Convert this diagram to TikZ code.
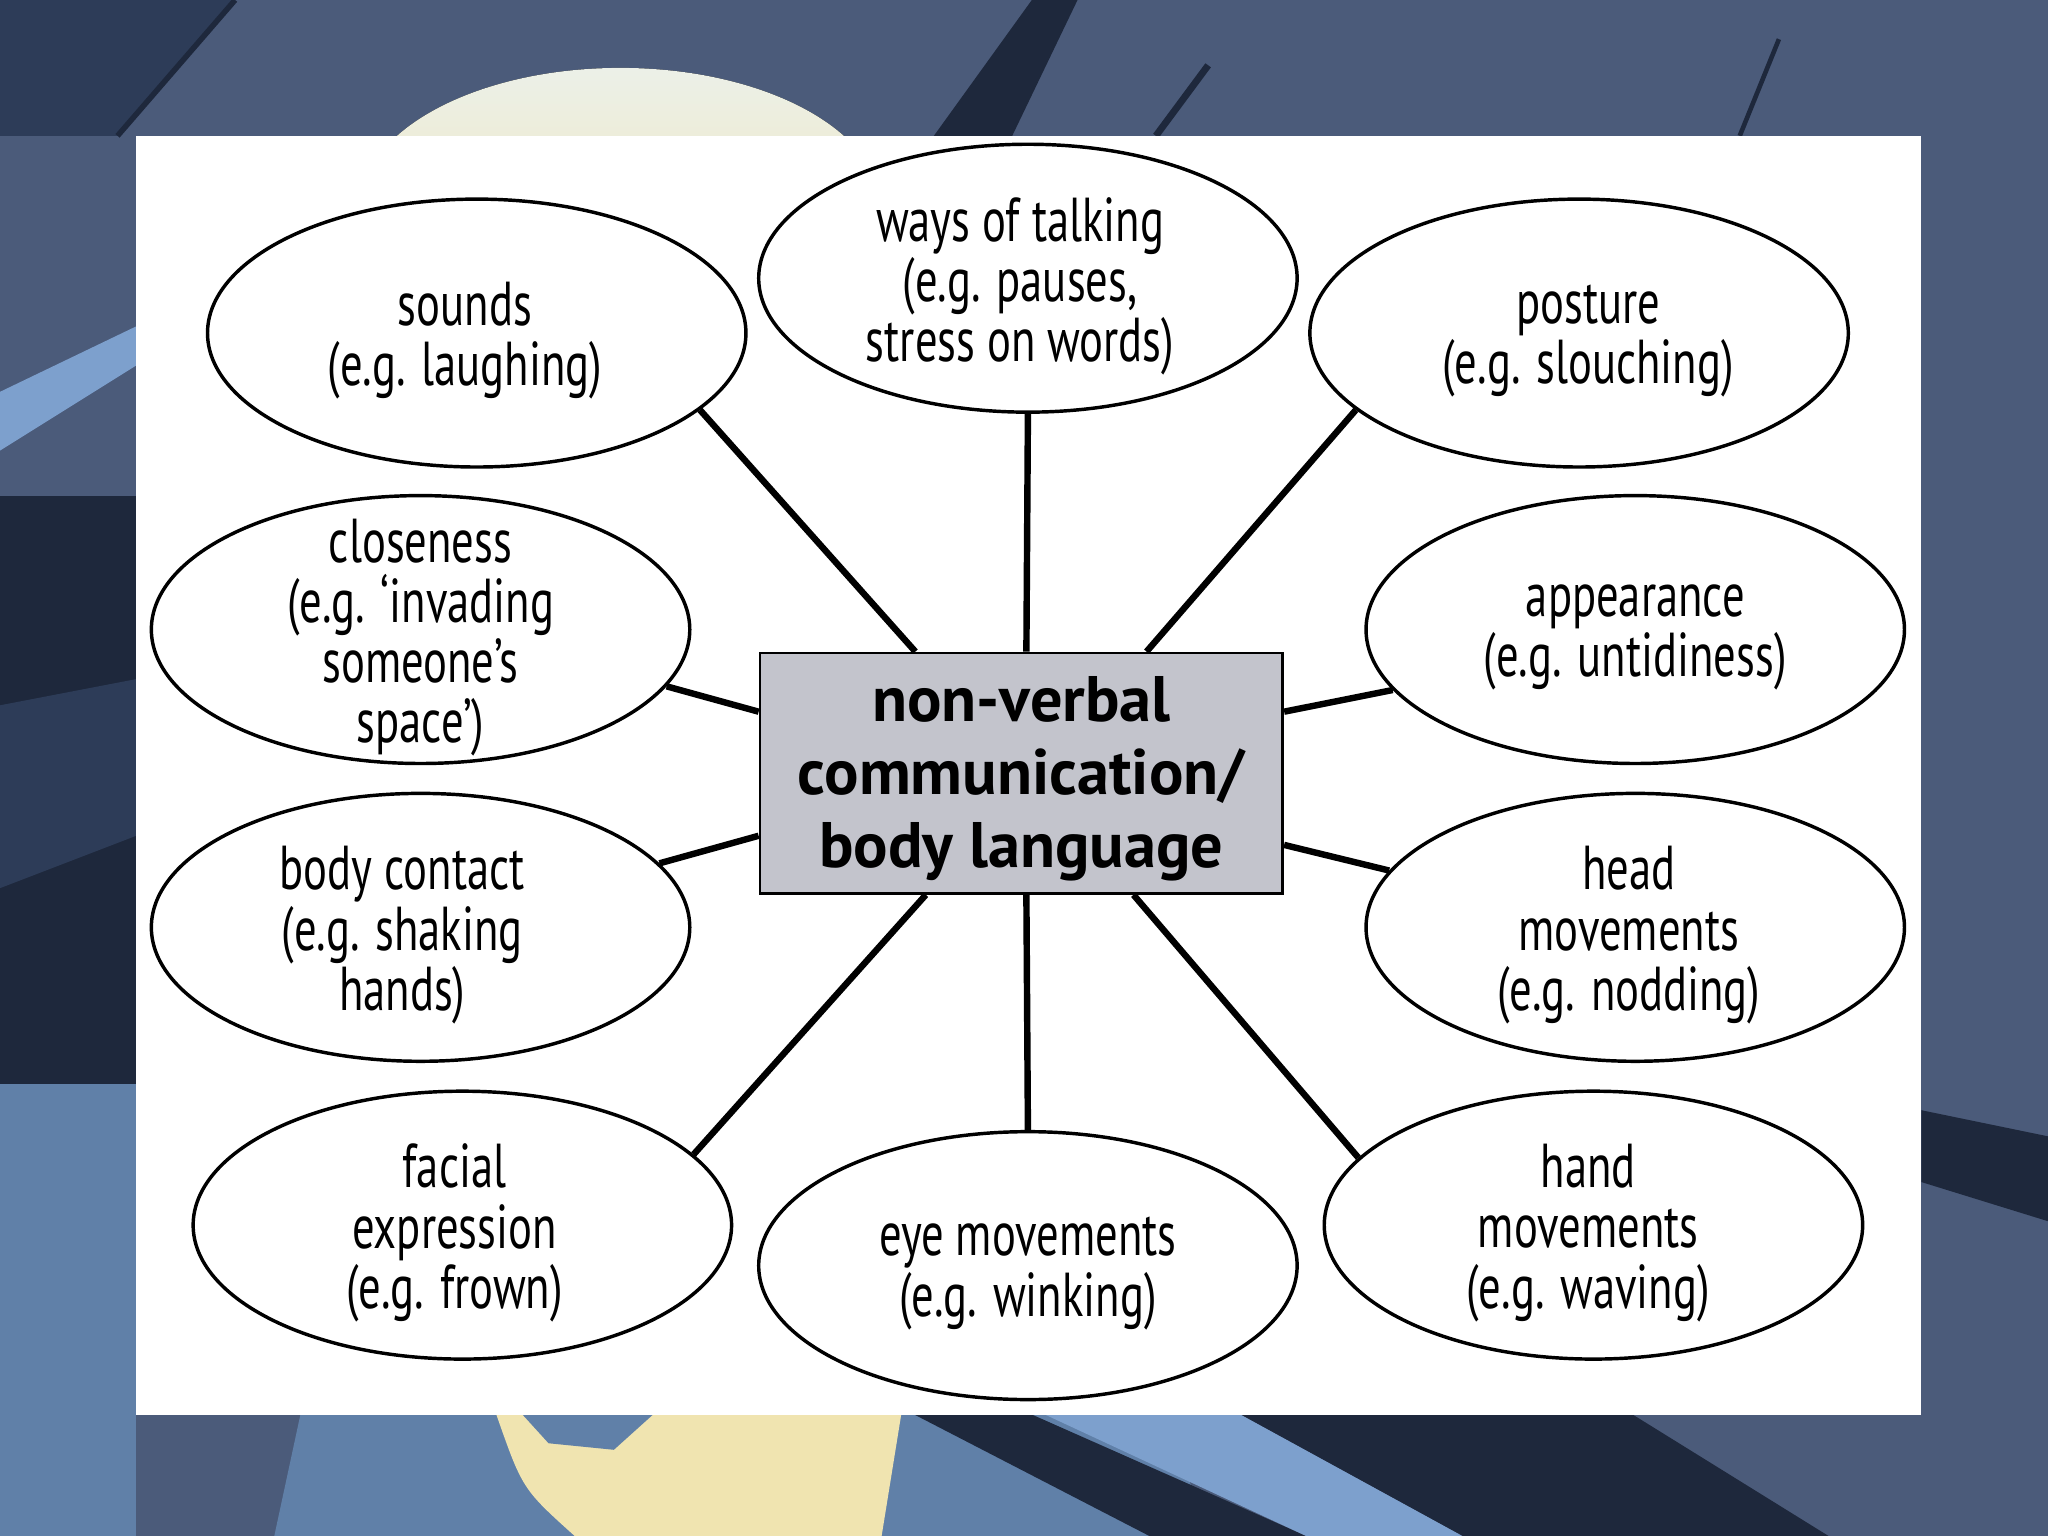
\documentclass[tikz,border=0pt]{standalone}
\usepackage{fontspec}
\setmainfont{PT Sans}[FakeStretch=0.72]
\newfontfamily\hubfont{PT Sans}
\usetikzlibrary{shapes.geometric,calc}
\definecolor{bgslate}{RGB}{75,91,122}
\definecolor{bgdark}{RGB}{30,40,60}
\definecolor{bgnavy}{RGB}{45,60,88}
\definecolor{bglight}{RGB}{96,128,168}
\definecolor{bgpale}{RGB}{125,160,205}
\definecolor{cream}{RGB}{240,228,176}
\definecolor{creamw}{RGB}{236,240,232}
\definecolor{hubgrey}{RGB}{195,196,204}
\begin{document}
\begin{tikzpicture}[x=0.01cm,y=-0.01cm,
  bubble/.style={ellipse,draw=black,line width=0.75pt,fill=white,minimum width=4.12cm,minimum height=2.05cm,inner sep=0pt},
  btext/.style={align=center,font=\fontsize{13.5}{13.1}\selectfont,inner sep=0pt,yshift=-0.06cm},
  hub/.style={rectangle,draw=black,line width=0.6pt,fill=hubgrey,minimum width=4cm,minimum height=1.84cm,inner sep=0pt},
  hubtext/.style={align=center,font=\hubfont\bfseries\fontsize{14}{15.9}\selectfont,inner sep=0pt,yshift=-0.04cm},
  conn/.style={line width=1.4pt}]
\useasboundingbox (0,0) rectangle (1568,1176);
% background photo approximation
\fill[bgslate] (0,0) rectangle (1568,1176);
\fill[bgnavy] (0,0) -- (180,0) -- (90,104) -- (0,104) -- cycle;
\fill[bgpale] (0,300) -- (104,250) -- (104,280) -- (0,345) -- cycle;
\fill[bgdark] (0,380) rectangle (104,830);
\fill[bgnavy] (0,540) -- (104,520) -- (104,640) -- (0,680) -- cycle;
\fill[bglight] (0,830) rectangle (104,1176);
\draw[bgdark,line width=1.2pt] (180,0) -- (90,104);
\fill[top color=creamw,bottom color=cream] (475,160) ellipse [x radius=200,y radius=108];
\fill[bgdark] (790,0) -- (825,0) -- (775,104) -- (715,104) -- cycle;
\draw[bgdark,line width=1.5pt] (925,50) -- (885,104);
\draw[bgdark,line width=1pt] (1362,30) -- (1332,104);
\fill[bgdark] (1471,850) -- (1568,870) -- (1568,935) -- (1471,905) -- cycle;
\fill[bglight] (230,1083) -- (900,1083) -- (920,1176) -- (210,1176) -- cycle;
\fill[cream] (380,1083) -- (690,1083) -- (675,1176) -- (440,1176) .. controls (400,1140) .. (380,1083) -- cycle;
\fill[bglight] (400,1083) -- (500,1083) -- (470,1110) -- (420,1105) -- cycle;
\fill[bgdark] (700,1083) -- (790,1083) -- (1000,1176) -- (880,1176) -- cycle;
\fill[bgpale] (800,1083) -- (950,1083) -- (1120,1176) -- (1000,1176) -- cycle;
\fill[bgdark] (950,1083) -- (1250,1083) -- (1400,1176) -- (1120,1176) -- cycle;
% white panel
\fill[white] (104,104) rectangle (1471,1083);
% nodes
\node[hub] (hub) at (782,592) {};
\node[hubtext] (thub) at (hub) {non-verbal\\communication/\\body language};
\node[bubble] (sounds) at (365,255) {};
\node[bubble] (ways) at (787,213) {};
\node[bubble] (posture) at (1209,255) {};
\node[bubble] (close) at (322,482) {};
\node[bubble] (appear) at (1252,482) {};
\node[bubble] (contact) at (322,710) {};
\node[bubble] (head) at (1252,710) {};
\node[bubble] (facial) at (354,938) {};
\node[bubble] (eye) at (787,969) {};
\node[bubble] (hand) at (1220,938) {};
\node[btext,xshift=-0.09cm] (tsounds) at (sounds) {sounds\\(e.g. laughing)};
\node[btext,xshift=-0.06cm] (tways) at (ways) {ways of talking\\(e.g. pauses,\\stress on words)};
\node[btext,xshift=0.07cm] (tposture) at (posture) {posture\\(e.g. slouching)};
\node[btext] (tclose) at (close) {closeness\\(e.g. ‘invading\\someone’s\\space’)};
\node[btext] (tappear) at (appear) {appearance\\(e.g. untidiness)};
\node[btext,xshift=-0.14cm] (tcontact) at (contact) {body contact\\(e.g. shaking\\hands)};
\node[btext,xshift=-0.05cm] (thead) at (head) {head\\movements\\(e.g. nodding)};
\node[btext,xshift=-0.06cm] (tfacial) at (facial) {facial\\expression\\(e.g. frown)};
\node[btext] (teye) at (eye) {eye movements\\(e.g. winking)};
\node[btext,xshift=-0.04cm] (thand) at (hand) {hand\\movements\\(e.g. waving)};
% connectors
\draw[conn] ($(hub.north west)+(120,0)$) -- (sounds.-19);
\draw[conn] ($(hub.north west)+(205,0)$) -- (ways.south);
\draw[conn] ($(hub.north west)+(297,0)$) -- (posture.199);
\draw[conn] ($(hub.north west)+(0,46)$) -- (close.-13.5);
\draw[conn] ($(hub.north west)+(0,141)$) -- (contact.15);
\draw[conn] ($(hub.north east)+(0,46)$) -- (appear.194);
\draw[conn] ($(hub.north east)+(0,148)$) -- (head.167);
\draw[conn] ($(hub.south west)+(128,0)$) -- (facial.17);
\draw[conn] ($(hub.south west)+(205,0)$) -- (eye.north);
\draw[conn] ($(hub.south west)+(287,0)$) -- (hand.164);
\end{tikzpicture}
\end{document}
